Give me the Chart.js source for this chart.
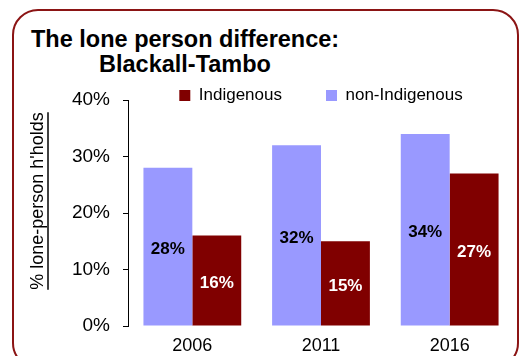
<!DOCTYPE html>
<html>
<head>
<meta charset="utf-8">
<script src="https://cdn.jsdelivr.net/npm/chart.js@4.4.1/dist/chart.umd.min.js"></script>
<style>
  html, body { margin: 0; padding: 0; background: #fff; }
  #wrap { position: relative; width: 531px; height: 356px; overflow: hidden; font-family: "Liberation Sans", Arial, sans-serif; }
  #frame { position: absolute; left: 12px; top: 9px; width: 507px; height: 360px; border: 2px solid #8b1414; border-radius: 26px; box-sizing: border-box; }
  .title { position: absolute; font-weight: bold; font-size: 23.5px; color: #000; white-space: nowrap; line-height: 1; }
  #t1 { left: 31px; top: 28px; }
  #t2 { left: 0; width: 370px; text-align: center; top: 53px; }
  canvas { position: absolute; left: 0; top: 0; }
</style>
</head>
<body>
<div id="wrap">
  <div id="frame"></div>
  <div class="title" id="t1">The lone person difference:</div>
  <div class="title" id="t2">Blackall-Tambo</div>
  <canvas id="c" width="531" height="356"></canvas>
</div>
<script>
// Census years and share of lone-person households (%)
const years = ['2006', '2011', '2016'];
const nonIndigenous = [28, 32, 34];
const indigenous = [16, 15, 27];
const yTicks = [0, 10, 20, 30, 40];
const yTitle = "% lone-person h'holds";

const FONT = '"Liberation Sans", Arial, sans-serif';

// Value labels centred in each bar
const barLabels = {
  id: 'barLabels',
  afterDatasetsDraw(chart) {
    const ctx = chart.ctx;
    ctx.save();
    ctx.font = 'bold 17px ' + FONT;
    ctx.textAlign = 'center';
    ctx.textBaseline = 'middle';
    chart.data.datasets.forEach((ds, i) => {
      chart.getDatasetMeta(i).data.forEach((bar, j) => {
        ctx.fillStyle = ds.labelColor;
        ctx.fillText(ds.data[j] + '%', bar.x, (bar.y + bar.base) / 2 + 3);
      });
    });
    ctx.restore();
  }
};

// Rotated, underlined y-axis title
const yAxisTitle = {
  id: 'yAxisTitle',
  afterDraw(chart) {
    const ctx = chart.ctx;
    ctx.save();
    ctx.translate(38, 201);
    ctx.rotate(-Math.PI / 2);
    ctx.font = '18px ' + FONT;
    ctx.fillStyle = '#000';
    ctx.textAlign = 'center';
    ctx.textBaseline = 'middle';
    ctx.fillText(yTitle, 0, 0);
    const w = ctx.measureText(yTitle).width;
    ctx.strokeStyle = '#000';
    ctx.lineWidth = 1.5;
    ctx.beginPath();
    ctx.moveTo(-w / 2, 10);
    ctx.lineTo(w / 2, 10);
    ctx.stroke();
    ctx.restore();
  }
};

// Keep the legend row compact: wide gap between items, but a short box height
const compactLegend = {
  id: 'compactLegend',
  afterInit(chart) {
    const lg = chart.legend;
    if (!lg) return;
    const fit = lg.fit.bind(lg);
    lg.fit = function () { fit(); this.height = 57; };
  },
  beforeDraw(chart) {
    // let the legend text descenders show below its layout box
    if (chart.legend) chart.legend.bottom += 12;
  }
};

new Chart(document.getElementById('c'), {
  type: 'bar',
  data: {
    labels: years,
    datasets: [
      { label: 'non-Indigenous', data: nonIndigenous, backgroundColor: '#9999ff', labelColor: '#000' },
      { label: 'Indigenous', data: indigenous, backgroundColor: '#800000', labelColor: '#fff' }
    ]
  },
  options: {
    responsive: false,
    animation: false,
    devicePixelRatio: 1,
    layout: { padding: { left: 0, right: 17, top: 43, bottom: 0 } },
    datasets: { bar: { barPercentage: 1, categoryPercentage: 0.76 } },
    plugins: {
      legend: {
        display: true,
        position: 'top',
        fullSize: false,
        reverse: true,
        labels: {
          boxWidth: 11,
          boxHeight: 11,
          padding: 44,
          color: '#000',
          font: { family: FONT, size: 17 }
        }
      },
      tooltip: { enabled: false }
    },
    scales: {
      x: {
        grid: { display: false, drawTicks: false },
        border: { display: false },
        ticks: { color: '#000', font: { family: FONT, size: 18 }, padding: 9 },
        afterFit(s) { s.height = 30; }
      },
      y: {
        min: 0,
        max: 40,
        afterFit(s) { s.width = 128; },
        afterBuildTicks(s) { s.ticks = yTicks.map(v => ({ value: v })); },
        grid: { drawOnChartArea: false, drawTicks: true, tickLength: 5, color: '#000' },
        border: { display: true, color: '#000', width: 1 },
        ticks: {
          color: '#000',
          font: { family: FONT, size: 19 },
          padding: 13,
          callback: v => v + '%'
        }
      }
    }
  },
  plugins: [barLabels, yAxisTitle, compactLegend]
});
</script>
</body>
</html>
